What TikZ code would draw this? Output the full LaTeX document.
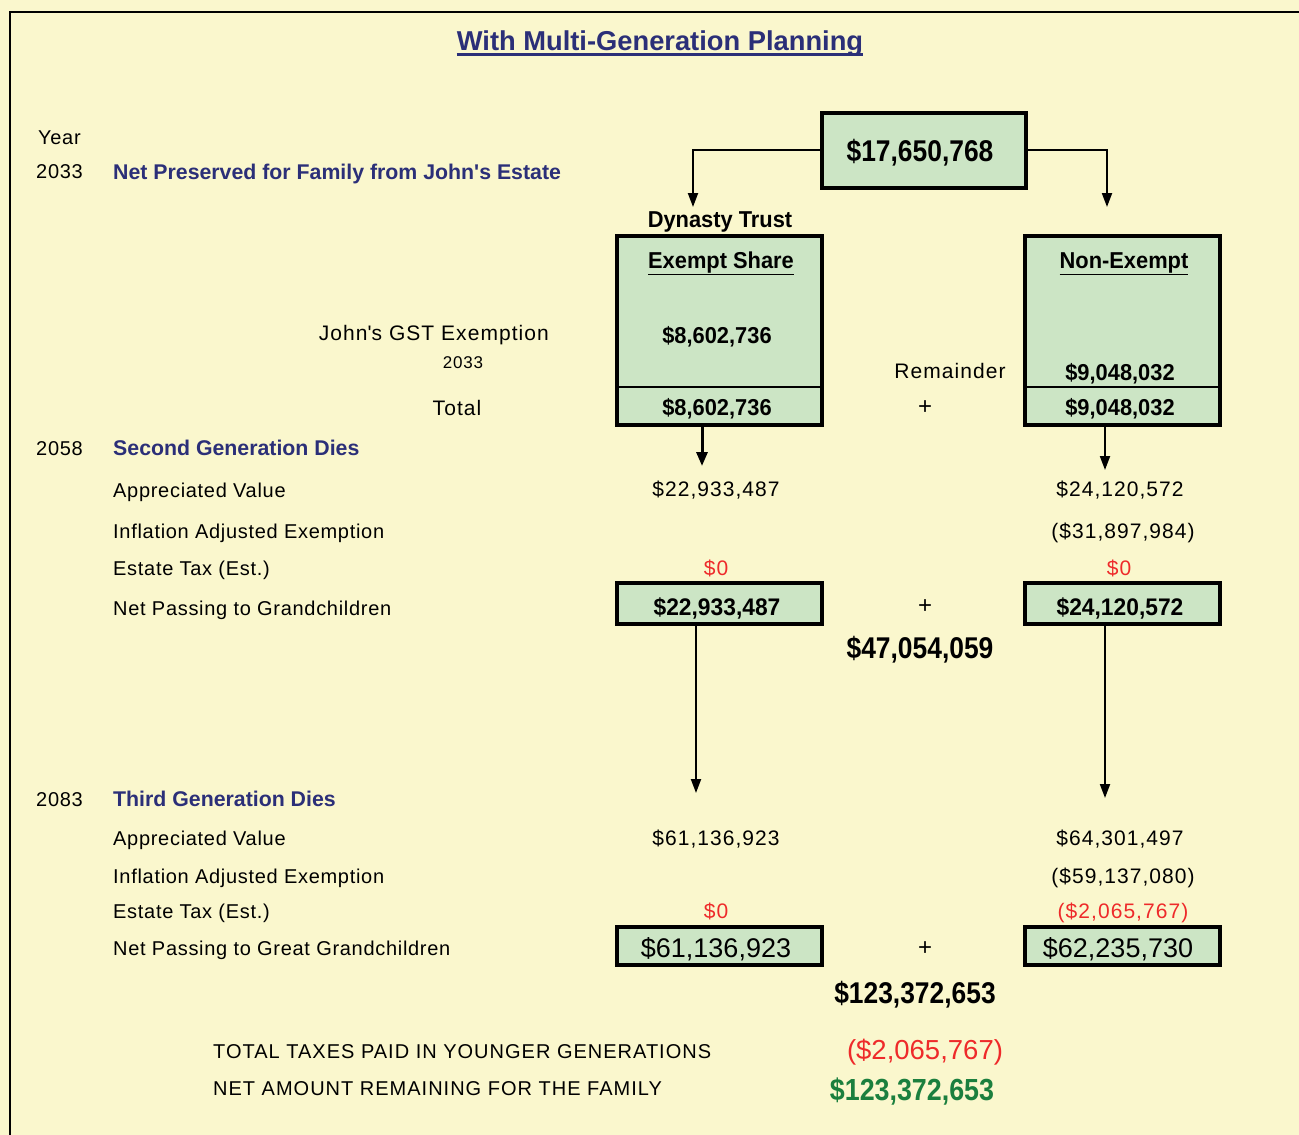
\documentclass[tikz,border=0pt]{standalone}
\usepackage{fontspec}
\setmainfont{Liberation Sans}
\newfontfamily\nbf{Liberation Sans}[FakeStretch=0.88]
\newfontfamily\mbf{Liberation Sans}[FakeStretch=0.95]
\newfontfamily\lsp{Liberation Sans}[LetterSpace=5]
\newfontfamily\lspb{Liberation Sans}[LetterSpace=3.5]
\usetikzlibrary{arrows.meta}
\definecolor{bgc}{HTML}{FAF7CD}
\definecolor{boxc}{HTML}{CCE5C5}
\definecolor{navy}{HTML}{2B2F78}
\definecolor{redc}{HTML}{EE2A2A}
\definecolor{greenc}{HTML}{1B7F3E}
\newcommand{\fs}[1]{\fontsize{#1}{#1}\selectfont}
\tikzset{
  lbl/.style={anchor=base west, inner sep=0, font=\lspb\fs{20}},
  caps/.style={anchor=base west, inner sep=0, font=\lsp\fs{20}},
  hdr/.style={anchor=base west, inner sep=0, font=\fs{21.3}\bfseries, text=navy},
  num/.style={anchor=base, inner sep=0, font=\lsp\fs{21}},
  rednum/.style={anchor=base, inner sep=0, font=\lsp\fs{21}, text=redc},
  bnum/.style={anchor=base, inner sep=0, font=\mbf\fs{23}\bfseries},
  bbnum/.style={anchor=base, inner sep=0, font=\mbf\fs{24}\bfseries},
  bignum/.style={anchor=base, inner sep=0, font=\nbf\fs{30}\bfseries},
  plus/.style={anchor=base, inner sep=0, font=\fs{24}},
  gbox/.style={draw, line width=4, fill=boxc, inner sep=0},
  arr/.style={line width=2, -{Triangle[length=14,width=10]}},
  arrthick/.style={line width=3, -{Triangle[length=14,width=11]}},
}
\begin{document}
\begin{tikzpicture}[x=1pt,y=-1pt]
\fill[bgc] (0,0) rectangle (1299,1135);
\useasboundingbox (0,0) rectangle (1299,1135);
\draw[line width=2] (10,1135) -- (10,12) -- (1299,12);

% title
\node[anchor=base, inner sep=0, font=\fs{27.3}\bfseries, text=navy] (title) at (660,50) {With Multi-Generation Planning};
\draw[navy, line width=3] (title.west |- 0,54.5) -- (title.east |- 0,54.5);

% left column labels
\node[lbl] (year) at (38,144) {Year};
\node[lbl] (y2033) at (36,178) {2033};
\node[hdr] (h1) at (113,179) {Net Preserved for Family from John\textquotesingle s Estate};

% top box
\node[gbox, minimum width=204, minimum height=75] (top) at (924,150) {};
\node[bignum] (topv) at (920,161) {\$17,650,768};

\coordinate (ldown) at (693,207);
\coordinate (rdown) at (1107,207);
\draw[arr] (top.west) -| (ldown);
\draw[arr] (top.east) -| (rdown);

\node[bnum] (dyn) at (720,227) {Dynasty Trust};

% exempt box
\node[gbox, minimum width=205, minimum height=189] (ex) at (719.5,330.5) {};
\draw[line width=2] (ex.west |- 0,387) coordinate (exd1) -- (ex.east |- 0,387) coordinate (exd2);
\node[bnum] (exh) at (721,268) {\underline{Exempt Share}};
\node[bnum] (exv) at (717,343) {\$8,602,736};
\node[bnum] (ext) at (717,415) {\$8,602,736};

% non-exempt box
\node[gbox, minimum width=195, minimum height=189] (nx) at (1122.5,330.5) {};
\draw[line width=2] (nx.west |- 0,387) coordinate (nxd1) -- (nx.east |- 0,387) coordinate (nxd2);
\node[bnum] (nxh) at (1124,268) {\underline{Non-Exempt}};
\node[bnum] (nxv) at (1120,380) {\$9,048,032};
\node[bnum] (nxt) at (1120,415) {\$9,048,032};

\node[anchor=base east, inner sep=0, font=\lsp\fs{21}] (gst) at (549,340) {John\textquotesingle s GST Exemption};
\node[anchor=base, inner sep=0, font=\lsp\fs{17}] (g2033) at (463,368) {2033};
\node[anchor=base, inner sep=0, font=\lsp\fs{21}] (total) at (457,415) {Total};
\node[anchor=base, inner sep=0, font=\lsp\fs{21}] (rem) at (950,378) {Remainder};
\node[plus] (plus1) at (925,414) {+};

% second generation
\node[lbl] (y2058) at (36,455) {2058};
\node[hdr] (h2) at (113,455) {Second Generation Dies};
\coordinate (a2l) at (702,466);
\coordinate (a2r) at (1105,470);
\draw[arrthick] (ex.south -| a2l) -- (a2l);
\draw[arr] (nx.south -| a2r) -- (a2r);

\node[lbl] (av1) at (113,497) {Appreciated Value};
\node[num] (av1l) at (716,496) {\$22,933,487};
\node[num] (av1r) at (1120,496) {\$24,120,572};
\node[lbl] (ia1) at (113,538) {Inflation Adjusted Exemption};
\node[num] (ia1r) at (1123,538) {(\$31,897,984)};
\node[lbl] (et1) at (113,575) {Estate Tax (Est.)};
\node[rednum] (et1l) at (716,575) {\$0};
\node[rednum] (et1r) at (1119,575) {\$0};
\node[lbl] (np1) at (113,615) {Net Passing to Grandchildren};
\node[gbox, minimum width=205, minimum height=41] (b2l) at (719.5,603.5) {};
\node[gbox, minimum width=195, minimum height=41] (b2r) at (1122.5,603.5) {};
\node[bbnum] (b2lv) at (717,615) {\$22,933,487};
\node[bbnum] (b2rv) at (1120,615) {\$24,120,572};
\node[plus] (plus2) at (925,613) {+};
\node[bignum] (sum2) at (920,658) {\$47,054,059};

\coordinate (a3l) at (696,793);
\coordinate (a3r) at (1105,798);
\draw[arr] (b2l.south -| a3l) -- (a3l);
\draw[arr] (b2r.south -| a3r) -- (a3r);

% third generation
\node[lbl] (y2083) at (36,806) {2083};
\node[hdr] (h3) at (113,806) {Third Generation Dies};
\node[lbl] (av2) at (113,845) {Appreciated Value};
\node[num] (av2l) at (716,845) {\$61,136,923};
\node[num] (av2r) at (1120,845) {\$64,301,497};
\node[lbl] (ia2) at (113,883) {Inflation Adjusted Exemption};
\node[num] (ia2r) at (1123,883) {(\$59,137,080)};
\node[lbl] (et2) at (113,918) {Estate Tax (Est.)};
\node[rednum] (et2l) at (716,918) {\$0};
\node[rednum] (et2r) at (1123,918) {(\$2,065,767)};
\node[lbl] (np2) at (113,955) {Net Passing to Great Grandchildren};
\node[gbox, minimum width=205, minimum height=38] (b3l) at (719.5,946) {};
\node[gbox, minimum width=195, minimum height=38] (b3r) at (1122.5,946) {};
\node[anchor=base, inner sep=0, font=\fs{27}] (b3lv) at (716,957) {\$61,136,923};
\node[anchor=base, inner sep=0, font=\fs{27}] (b3rv) at (1118,957) {\$62,235,730};
\node[plus] (plus3) at (925,955) {+};
\node[bignum] (sum3) at (915,1003) {\$123,372,653};

% totals
\node[caps] (tt) at (213,1058) {TOTAL TAXES PAID IN YOUNGER GENERATIONS};
\node[anchor=base, inner sep=0, font=\fs{27.5}, text=redc] (ttv) at (925,1059) {(\$2,065,767)};
\node[caps] (na) at (213,1095) {NET AMOUNT REMAINING FOR THE FAMILY};
\node[anchor=base, inner sep=0, font=\nbf\fs{30.5}\bfseries, text=greenc] (nav) at (912,1100) {\$123,372,653};
\end{tikzpicture}
\end{document}
